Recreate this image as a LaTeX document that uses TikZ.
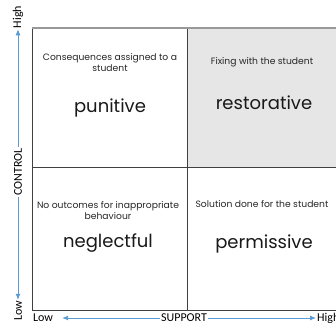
\documentclass[tikz,border=0pt]{standalone}
\usepackage{fontspec}
\setmainfont{Poppins}
\newfontfamily\axisfont{Carlito}
\usetikzlibrary{arrows.meta}
\definecolor{axisblue}{HTML}{5B9BD5}
\definecolor{cellgray}{HTML}{E6E6E6}
\definecolor{gridgray}{HTML}{404040}

\begin{document}
\begin{tikzpicture}[x=1pt,y=-1pt,
    gridline/.style={draw=gridgray,line width=0.8pt},
    topline/.style={draw=black!40,line width=1.6pt},
    axis/.style={draw=axisblue,line width=0.9pt,-{Latex[length=6pt,width=5pt]}},
    note/.style={font=\fontsize{9.2}{11}\selectfont,align=center,text=black!85},
    kind/.style={font=\fontsize{18}{22}\selectfont,text=black!90},
    axlabel/.style={font=\axisfont\fontsize{12}{14}\selectfont,inner sep=1pt}]
        \useasboundingbox (0,0) rectangle (336,323);
        \clip (0,0) rectangle (336,323);

        \fill[cellgray] (187,28) rectangle (345,167);
        \draw[gridline] (32,28) -- (32,310) -- (345,310);
        \draw[gridline] (187,28) -- (187,310);
        \draw[gridline] (32,167) -- (345,167);
        \draw[topline] (32,28) -- (345,28);

        \node[note] (punnote) at (110,63) {Consequences assigned to a\\student};
        \node[kind] (pun) at (110,108) {punitive};
        \node[note] (resnote) at (262,62) {Fixing with the student};
        \node[kind] (res) at (264,103) {restorative};
        \node[note] (negnote) at (108,211) {No outcomes for inappropriate\\behaviour};
        \node[kind] (neg) at (108,243) {neglectful};
        \node[note] (pernote) at (262,204) {Solution done for the student};
        \node[kind] (per) at (264,244) {permissive};

        \node[axlabel,rotate=90] (ctrlhigh) at (18,17) {High};
        \node[axlabel,rotate=90] (ctrl) at (18,172) {CONTROL};
        \node[axlabel,rotate=90] (ctrllow) at (18,311) {Low};
        \draw[axis] (ctrl) -- (ctrlhigh);
        \draw[axis] (ctrl) -- (ctrllow);

        \node[axlabel] (suplow) at (43,318) {Low};
        \node[axlabel] (sup) at (184,318) {SUPPORT};
        \node[axlabel,anchor=west] (suphigh) at (316,318) {High};
        \draw[axis,shorten >=8pt] (sup) -- (suplow);
        \draw[axis] (sup) -- (suphigh);
      \end{tikzpicture}
\end{document}
